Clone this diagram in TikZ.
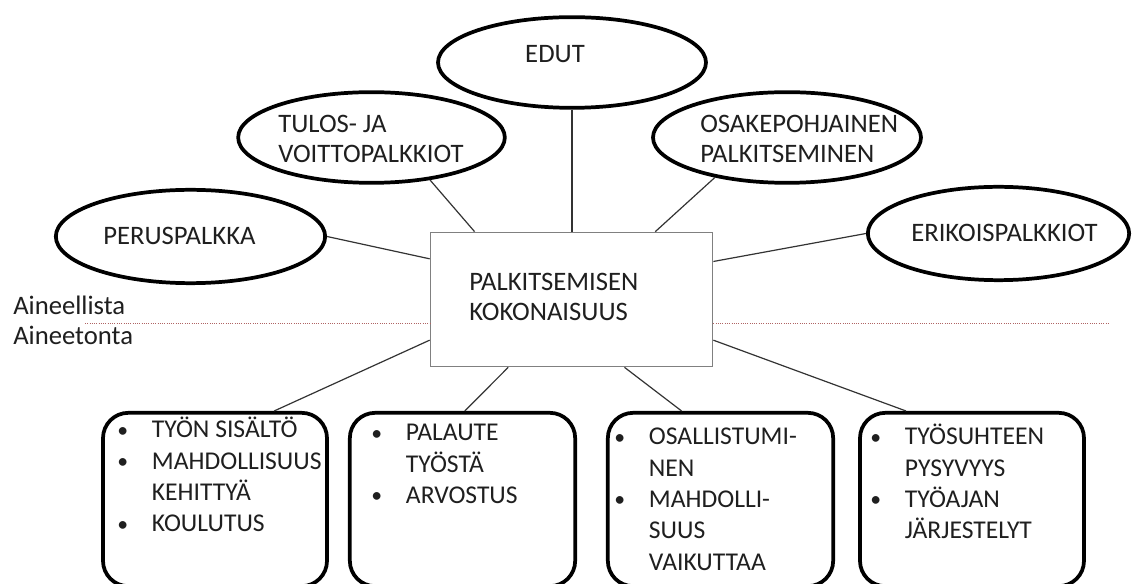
\documentclass[tikz,border=0pt]{standalone}
\usepackage{fontspec}
\setmainfont{Carlito}
\usetikzlibrary{shapes.geometric,calc}
\newcommand{\ml}[1]{\begin{tabular}[t]{@{}l@{}}#1\end{tabular}}
\newcommand{\bu}{\makebox[26pt][l]{\raisebox{0.5pt}{\scalebox{0.85}{•}}}}
\newcommand{\ind}{\hspace*{26pt}}
\definecolor{dotred}{RGB}{175,100,100}
\tikzset{
  ell/.style={ellipse, draw, line width=2.8pt, inner sep=0pt, minimum width=201pt, minimum height=68pt},
  lbl/.style={font=\fontsize{20}{22.5}\selectfont, inner sep=0pt, anchor=base west, text=black!88},
  blbl/.style={font=\fontsize{19.2}{23.5}\selectfont, inner sep=0pt, anchor=base west, text=black!88},
  side/.style={font=\fontsize{20}{22.5}\selectfont, inner sep=0pt, anchor=base west, text=black!88},
  conn/.style={line width=0.9pt, black!80},
  bbox/.style={draw, line width=2.8pt, rounded corners=19pt, minimum width=168pt, minimum height=130pt, inner sep=0pt},
  cbox/.style={draw=gray, line width=0.8pt, minimum width=212pt, minimum height=101pt, inner sep=0pt}
}
\begin{document}
\begin{tikzpicture}[x=0.75pt,y=-0.75pt]
\useasboundingbox (0,0) rectangle (1133,584);
\clip (0,0) rectangle (1133,584);
\fill[white] (0,0) rectangle (1133,584);

% centre box
\node[cbox] (c) at (571.5,299.5) {};
\node[lbl] (ct) at (469,291) {\ml{PALKITSEMISEN\\KOKONAISUUS}};

% ellipses
\node[ell] (edut) at (572,62.5) {};
\node[lbl, anchor=base] (edutt) at (555,63) {EDUT};
\node[ell, minimum width=200pt] (tulos) at (371.5,137.5) {};
\node[lbl] (tulost) at (278,133) {\ml{TULOS- JA\\VOITTOPALKKIOT}};
\node[ell, minimum width=202pt, minimum height=70pt] (perus) at (190.5,236.5) {};
\node[lbl] (perust) at (103,245) {PERUSPALKKA};
\node[ell] (osake) at (787,137.5) {};
\node[lbl] (osaket) at (700,133) {\ml{OSAKEPOHJAINEN\\PALKITSEMINEN}};
\node[ell, minimum width=196pt, minimum height=70pt] (erik) at (998.5,233.5) {};
\node[lbl] (erikt) at (911,242) {ERIKOISPALKKIOT};

% side labels and divider
\node[side] (ain1) at (13,315) {Aineellista};
\node[side] (ain2) at (13,345) {Aineetonta};
\coordinate (dl) at (85,323);
\coordinate (dr) at (1108,323);
\draw[dotred, densely dotted, line width=0.7pt] (dl) -- (dl -| c.west);
\draw[dotred, densely dotted, line width=0.7pt] (c.east |- dr) -- (dr);

% bottom boxes
\node[bbox] (b1) at (215,499.5) {};
\node[bbox, minimum width=169pt] (b2) at (462.5,499.5) {};
\node[bbox, minimum width=169pt] (b3) at (720.5,499.5) {};
\node[bbox] (b4) at (972,499.5) {};

\node[blbl] (b1t) at (117,438) {\ml{\bu TYÖN SISÄLTÖ\\ \bu MAHDOLLISUUS\\ \ind KEHITTYÄ\\ \bu KOULUTUS}};
\node[blbl] (b2t) at (371,441) {\ml{\bu PALAUTE\\ \ind TYÖSTÄ\\ \bu ARVOSTUS}};
\node[blbl] (b3t) at (614,445) {\ml{\bu OSALLISTUMI-\\ \ind NEN\\ \bu MAHDOLLI-\\ \ind SUUS\\ \ind VAIKUTTAA}};
\node[blbl] (b4t) at (870,445) {\ml{\bu TYÖSUHTEEN\\ \ind PYSYVYYS\\ \bu TYÖAJAN\\ \ind JÄRJESTELYT}};

% connectors
\draw[conn] (perus.east) -- (c.164.3);
\draw[conn] (tulos.-36) -- (c.145.6);
\draw[conn] (edut.south) -- (edut.south |- c.north);
\draw[conn] (osake.209) -- (c.39.6);
\draw[conn] (erik.west) -- (c.15.6);
\draw[conn] (c.196.1) -- ($(b1.north west)!0.76!(b1.north east)$);
\draw[conn] (c.227.2) -- ($(b2.north west)!0.51!(b2.north east)$);
\draw[conn] (c.308.9) -- ($(b3.north west)!0.33!(b3.north east)$);
\draw[conn] (c.344.1) -- ($(b4.north west)!0.21!(b4.north east)$);
\end{tikzpicture}
\end{document}
